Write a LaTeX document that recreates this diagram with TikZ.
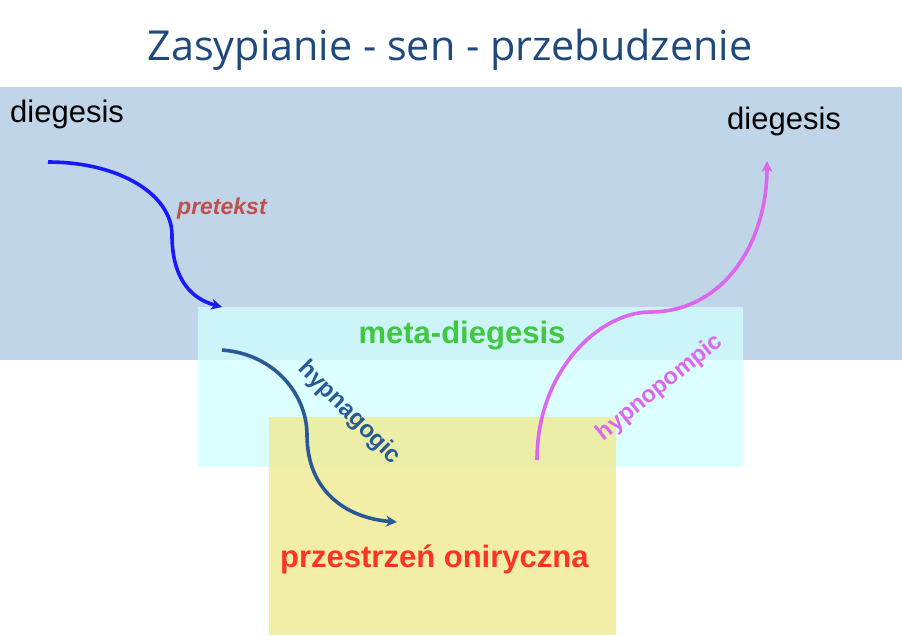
\documentclass[tikz,border=0pt]{standalone}
\usepackage{fontspec}
\setmainfont{Liberation Sans}
\newfontfamily\titlefont{Open Sans}
\usepackage{xcolor}
\usetikzlibrary{arrows.meta, positioning}

\definecolor{diegbg}{RGB}{192,213,232}
\definecolor{metabg}{RGB}{210,255,255}
\definecolor{onirbg}{RGB}{239,234,146}
\definecolor{titleblue}{RGB}{31,73,125}
\definecolor{pretred}{RGB}{192,80,77}
\definecolor{metagreen}{RGB}{64,200,64}
\definecolor{onirred}{RGB}{255,51,34}
\definecolor{hagblue}{RGB}{42,90,150}
\definecolor{hpviolet}{RGB}{221,102,238}

\begin{document}
\begin{tikzpicture}[x=1pt, y=-1pt,
    zone/.style={draw=none},
    txt/.style={inner sep=0pt, font=\fontsize{31}{36}\selectfont},
    flow/.style={line width=3.6pt, -{Stealth[length=11pt, width=11pt]}}
]
\useasboundingbox (0,0) rectangle (902,635);
\fill[white] (0,0) rectangle (902,635);

% obszary
\fill[zone, diegbg] (0,87) rectangle (902,360);
\fill[zone, metabg, opacity=0.76] (198,307) rectangle (743,467);
\fill[zone, onirbg, opacity=0.8] (269,417) rectangle (616,635);

% tytul
\node[inner sep=0pt, text=titleblue, font=\titlefont\fontsize{41.3}{48}\selectfont]
  (title) at (450,50) {Zasypianie - sen - przebudzenie};

\node[txt, anchor=base west] (diegL) at (10,122) {diegesis};
\node[txt, anchor=base west] (diegR) at (727,129) {diegesis};
\node[txt, anchor=base west, text=pretred, font=\fontsize{23}{28}\selectfont\bfseries\itshape]
  (pretekst) at (177,214) {pretekst};
\node[txt, anchor=base, text=metagreen, font=\fontsize{31}{36}\selectfont\bfseries]
  (meta) at (462,343) {meta-diegesis};
\node[txt, anchor=base west, text=onirred, font=\fontsize{31}{36}\selectfont\bfseries]
  (onir) at (280,567) {przestrzeń oniryczna};
\node[txt, text=hagblue, rotate=-45, font=\fontsize{24}{28}\selectfont\bfseries]
  (hypnag) at (349,413) {hypnagogic};
\node[txt, text=hpviolet, rotate=39, font=\fontsize{23.5}{28}\selectfont\bfseries]
  (hypnop) at (660,388) {hypnopompic};

% konce strzalek
\coordinate (preS) at (48,162);
\coordinate (preE) at (222,307);
\coordinate (hagS) at (222,350);
\coordinate (hagE) at (397,522);
\coordinate (hpS)  at (537,460);
\coordinate (hpE)  at (767,161);

\draw[flow, blue!90!white] (preS) .. controls (120,162) and (172,195) .. (172,235)
  .. controls (172,275) and (188,298) .. (preE);
\draw[flow, hagblue] (hagS) .. controls (275,354) and (307,395) .. (307,435)
  .. controls (307,490) and (345,518) .. (hagE);
\draw[flow, hpviolet] (hpS) .. controls (537,370) and (600,312) .. (650,312)
  .. controls (722,312) and (767,245) .. (hpE);
\end{tikzpicture}
\end{document}
